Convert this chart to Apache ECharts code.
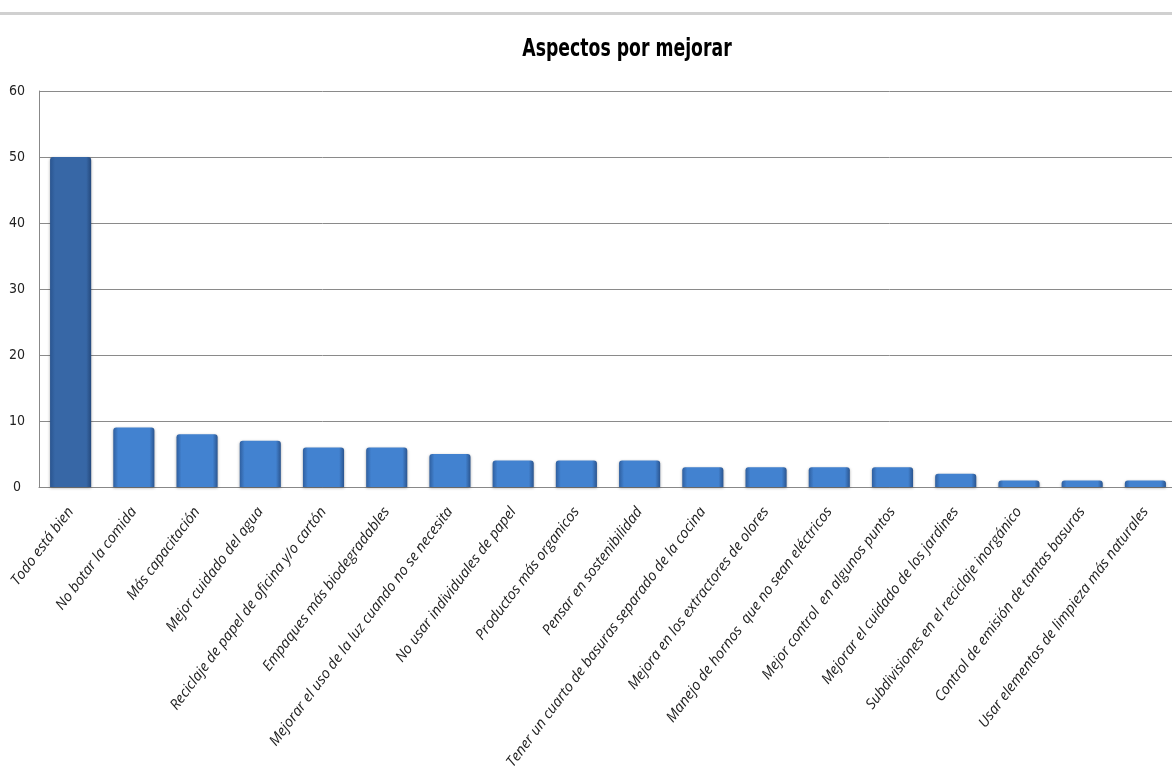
<!DOCTYPE html>
<html><head><meta charset="utf-8">
<script src="https://cdn.jsdelivr.net/npm/echarts@6/dist/echarts.min.js"></script>
<style>html,body{margin:0;padding:0;background:#fff}#c{width:1172px;height:774px}</style>
</head><body><div id="c"></div>
<script>
const titleText = 'Aspectos por mejorar';
const categories = ['Todo está bien','No botar la comida','Más capacitación','Mejor cuidado del agua','Reciclaje de papel de oficina y/o cartón','Empaques más biodegradables','Mejorar el uso de la luz cuando no se necesita','No usar individuales de papel','Productos más organicos','Pensar en sostenibilidad','Tener un cuarto de basuras separado de la cocina','Mejora en los extractores de olores','Manejo de hornos  que no sean eléctricos','Mejor control  en algunos puntos','Mejorar el cuidado de los jardines','Subdivisiones en el reciclaje inorgánico','Control de emisión de tantas basuras','Usar elementos de limpieza más naturales'];
const values = [50, 9, 8, 7, 6, 6, 5, 4, 4, 4, 3, 3, 3, 3, 2, 1, 1, 1];
const yTicks = [0, 10, 20, 30, 40, 50, 60];

function grad(a, b, c) {
  return new echarts.graphic.LinearGradient(0, 0, 1, 0, [
    {offset: 0, color: a}, {offset: 0.12, color: b}, {offset: 0.88, color: b}, {offset: 1, color: c}
  ]);
}
const normal = grad('#2f5f9f', '#4282d0', '#2b558f');
const first = grad('#2a5590', '#3767a6', '#25497c');

const chart = echarts.init(document.getElementById('c'));
chart.setOption({
  animation: false,
  graphic: [
    {type: 'rect', shape: {x: 0, y: 12, width: 1172, height: 3}, style: {fill: '#d0d0d0'}},
    {type: 'text', x: 627, y: 50, scaleX: 0.8, style: {text: titleText, x: 0, y: 0, align: 'center', verticalAlign: 'middle',
      fontFamily: '"DejaVu Sans Condensed","DejaVu Sans",sans-serif', fontWeight: 'bold', fontSize: 24, fill: '#000'}}
  ],
  grid: {left: 39, right: -5, top: 91, bottom: 287, containLabel: false, outerBoundsMode: 'none'},
  xAxis: {type: 'category', data: categories,
    axisLine: {lineStyle: {color: '#888'}}, axisTick: {show: false},
    axisLabel: {interval: 0, rotate: 53, fontStyle: 'italic', fontSize: 14.5, color: '#222',
      fontFamily: '"Open Sans",sans-serif', margin: 22}},
  yAxis: {type: 'value', min: yTicks[0], max: yTicks[yTicks.length-1], interval: 10,
    axisLine: {show: true, lineStyle: {color: '#888'}}, axisTick: {show: false},
    splitLine: {lineStyle: {color: '#8a8a8a'}},
    axisLabel: {color: '#222', fontSize: 14, margin: 22, align: 'center', fontFamily: '"DejaVu Sans Condensed",sans-serif'}},
  series: [{type: 'bar', barWidth: '65%',
    data: values.map((v, i) => ({value: v, itemStyle: {color: i === 0 ? first : normal}})),
    itemStyle: {borderRadius: [3, 3, 0, 0], shadowColor: 'rgba(0,0,0,0.35)', shadowBlur: 3, shadowOffsetY: 1}}]
});
</script></body></html>
